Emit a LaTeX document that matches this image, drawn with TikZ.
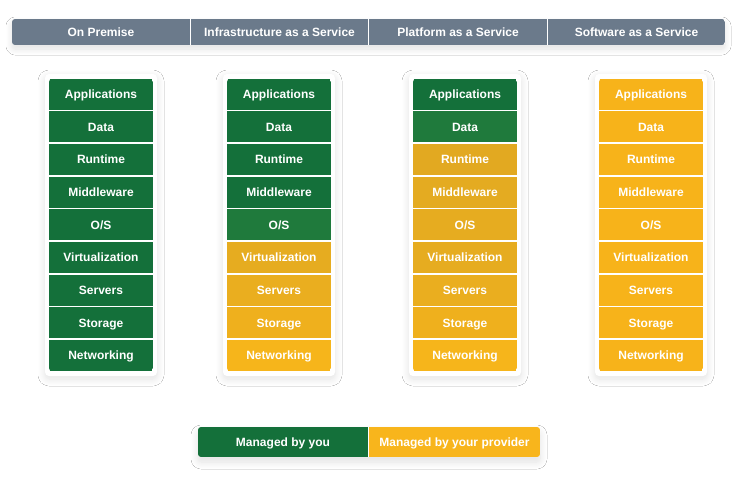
\documentclass[tikz,border=0pt]{standalone}
\usepackage{fontspec}
\setmainfont{Liberation Sans}
\usetikzlibrary{shadows.blur}
\definecolor{hdr}{HTML}{6B7A8B}
\definecolor{grn}{HTML}{14703A}
\definecolor{grnl}{HTML}{1F7A3C}
\definecolor{yA}{HTML}{F5B31B}
\definecolor{yB}{HTML}{EFB01D}
\definecolor{yC}{HTML}{E2A921}
\definecolor{yD}{HTML}{E4AB21}
\definecolor{yE}{HTML}{E6AC20}
\definecolor{yF}{HTML}{E6AC20}
\definecolor{yG}{HTML}{EAAE1F}
\definecolor{yH}{HTML}{EFB01D}
\definecolor{yI}{HTML}{F6B51B}
\definecolor{ysaas}{HTML}{F7B31A}
\definecolor{ylg}{HTML}{F8B51C}
\begin{document}
\begin{tikzpicture}[x=1pt,y=-1pt,
  txt/.style={text=white,font=\bfseries\fontsize{12}{14}\selectfont,text height=8.6pt,text depth=0pt},
  cell/.style={txt,rectangle,minimum width=104pt,minimum height=31pt,inner sep=0pt},
  hcell/.style={txt,rectangle,minimum height=26pt,inner sep=0pt,fill=hdr},
  card/.style={fill=white,rounded corners=4pt,blur shadow={shadow xshift=0pt,shadow yshift=-3pt,shadow blur steps=14,shadow blur radius=7pt,shadow opacity=12}},
  lcell/.style={txt,rectangle,minimum height=30pt,inner sep=0pt}]
\useasboundingbox[fill=white] (0,0) rectangle (736,482);

% header
\path[fill=white,rounded corners=3pt,blur shadow={shadow xshift=0pt,shadow yshift=-4pt,shadow blur steps=14,shadow blur radius=6pt,shadow opacity=12}] (12,19) rectangle (725,45);
\begin{scope}
\clip[rounded corners=3pt] (12,19) rectangle (725,45);
\node[hcell,minimum width=178pt] (h1) at (101,32) {On Premise};
\node[hcell,minimum width=177pt] (h2) at (279.5,32) {Infrastructure as a Service};
\node[hcell,minimum width=178pt] (h3) at (458,32) {Platform as a Service};
\node[hcell,minimum width=177pt] (h4) at (636.5,32) {Software as a Service};
\end{scope}

% columns
\foreach \k/\x/\n in {1/101/9,2/279/5,3/465/2,4/651/0}{
  \path[card] (\x-56,74) rectangle (\x+56,376);
  \begin{scope}
  \clip[rounded corners=4pt] (\x-52,78) rectangle (\x+52,372);
  \foreach \t/\yc [count=\i] in {Applications/yA,Data/yB,Runtime/yC,Middleware/yD,{O/S}/yE,Virtualization/yF,Servers/yG,Storage/yH,Networking/yI}{
    \ifnum\i>\n
      \ifnum\k=4 \def\cc{ysaas}\else\def\cc{\yc}\fi
    \else
      \ifnum\i=\n \ifnum\n<9 \def\cc{grnl}\else\def\cc{grn}\fi \else \def\cc{grn}\fi
    \fi
    \node[cell,fill=\cc] (c\k r\i) at (\x,{94.3+(\i-1)*32.67}) {\t};
  }
  \end{scope}
}

% legend
\path[fill=white,rounded corners=3pt,blur shadow={shadow xshift=0pt,shadow yshift=-5pt,shadow blur steps=14,shadow blur radius=7pt,shadow opacity=12}] (198,427) rectangle (540,457);
\begin{scope}
\clip[rounded corners=3pt] (198,427) rectangle (540,457);
\node[lcell,fill=grn,minimum width=170pt] (l1) at (283,442) {Managed by you};
\node[lcell,fill=ylg,minimum width=171pt] (l2) at (454.5,442) {Managed by your provider};
\end{scope}
\end{tikzpicture}
\end{document}
